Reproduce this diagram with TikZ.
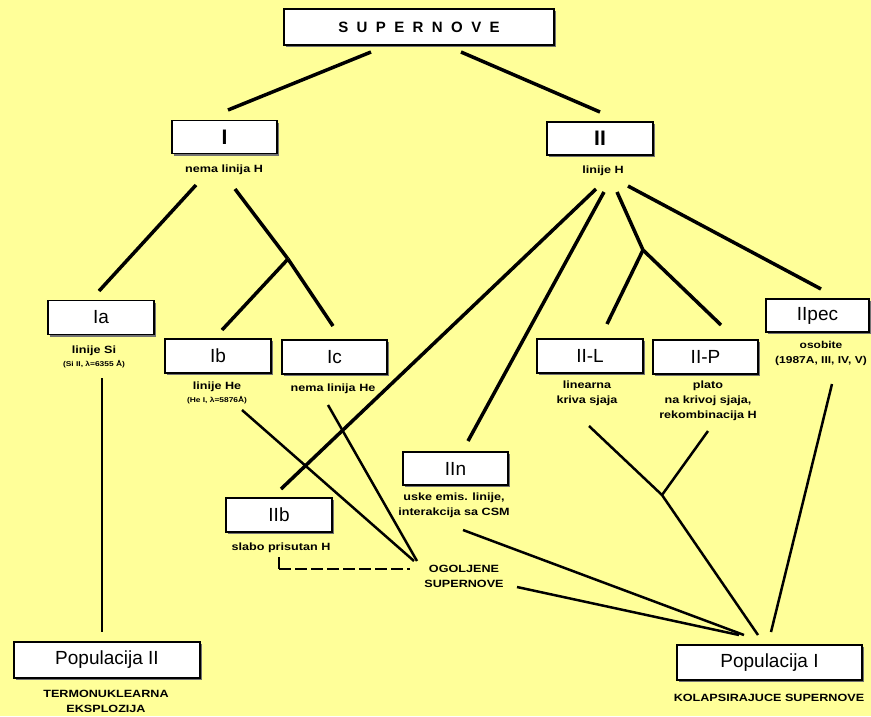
\documentclass[tikz,border=0pt]{standalone}
\usepackage{fontspec}
\setmainfont{Liberation Sans}
\newfontfamily\lblfont[FakeStretch=1.2]{Liberation Sans Bold}
\usetikzlibrary{shadows}
\definecolor{bgyellow}{RGB}{255,255,153}
\tikzset{
  box/.style={draw, line width=1.4pt, fill=white, minimum width=105pt, minimum height=34pt,
    inner sep=0pt, font=\fontsize{19}{22}\selectfont,
    drop shadow={shadow xshift=2pt, shadow yshift=-2pt, fill=black!55, opacity=1}},
  lbl/.style={inner sep=0pt, align=center, font=\lblfont\fontsize{10.5}{15}\selectfont},
  sublbl/.style={inner sep=0pt, align=center, font=\lblfont\fontsize{7}{9}\selectfont},
  conn/.style={line width=3.5pt},
  connthin/.style={line width=2.5pt},
}
\begin{document}
\begin{tikzpicture}[x=1pt,y=-1pt]
\fill[bgyellow] (0,0) rectangle (871,716);
\useasboundingbox (0,0) rectangle (871,716);

% boxes
\node[box, minimum width=270pt, minimum height=36pt, font=\fontsize{15}{18}\bfseries\selectfont] (sn) at (419,27)
  {S\kern8.4pt U\kern8.4pt P\kern8.4pt E\kern8.4pt R\kern8.4pt N\kern8.4pt O\kern8.4pt V\kern8.4pt E};
\node[box, minimum height=33pt, font=\fontsize{21}{24}\bfseries\selectfont] (I) at (224.5,137) {I};
\node[box, minimum width=106pt, minimum height=33pt, font=\fontsize{21}{24}\bfseries\selectfont] (II) at (600,138.5) {II};
\node[box, minimum width=106pt] (Ia) at (101,317.5) {Ia};
\node[box, minimum width=106pt] (Ib) at (218,356) {Ib};
\node[box] (Ic) at (334.5,357) {Ic};
\node[box, minimum width=106pt] (IIL) at (590,356) {II-L};
\node[box] (IIP) at (705.5,357) {II-P};
\node[box, minimum width=103pt, minimum height=33pt] (IIpec) at (817.5,315.5) {IIpec};
\node[box, minimum height=33pt] (IIn) at (455.5,468.5) {IIn};
\node[box, minimum width=106pt] (IIb) at (279,515) {IIb};
\node[box, minimum width=186pt, minimum height=36pt] (PopII) at (107,660) {Populacija II};
\node[box, minimum width=185pt, minimum height=35pt] (PopI) at (769.5,662.5) {Populacija I};

% labels
\node[lbl] (tI) at (224,170) {nema linija H};
\node[lbl] (tII) at (603,171) {linije H};
\node[lbl] (tIa) at (94,351) {linije Si};
\node[sublbl] (tIab) at (94,364) {(Si II, λ=6355 Å)};
\node[lbl] (tIb) at (217,387) {linije He};
\node[sublbl] (tIbb) at (217,400) {(He I, λ=5876Å)};
\node[lbl] (tIc) at (333,389) {nema linija He};
\node[lbl] (tIIL) at (587,393) {linearna\\kriva sjaja};
\node[lbl] (tIIP) at (708,401) {plato\\na krivoj sjaja,\\rekombinacija H};
\node[lbl, font=\lblfont\fontsize{10}{15}\selectfont] (tIIpec) at (821,353.5) {osobite\\(1987A, III, IV, V)};
\node[lbl] (tIIn) at (454,505.5) {uske emis. linije,\\interakcija sa CSM};
\node[lbl] (tIIb) at (281,548) {slabo prisutan H};
\node[lbl] (tog) at (464,576) {OGOLJENE\\SUPERNOVE};
\node[lbl] (tPopII) at (106,701.5) {TERMONUKLEARNA\\EKSPLOZIJA};
\node[lbl] (tPopI) at (769,698) {KOLAPSIRAJUCE SUPERNOVE};

% connector end points
\coordinate (a1) at (371,52);  \coordinate (a2) at (228,110);
\coordinate (b1) at (461,52);  \coordinate (b2) at (600,112);
\coordinate (c1) at (196,185); \coordinate (c2) at (99,291);
\coordinate (d1) at (235,189); \coordinate (j1) at (288,259);
\coordinate (d2) at (222,330); \coordinate (d3) at (333,326);
\coordinate (e1) at (102,378); \coordinate (e2) at (102,632);
\coordinate (f1) at (596,189); \coordinate (f2) at (281,489);
\coordinate (g1) at (604,192); \coordinate (g2) at (468,441);
\coordinate (h1) at (617,192); \coordinate (j2) at (643,250);
\coordinate (h2) at (607,324); \coordinate (h3) at (721,325);
\coordinate (k1) at (628,186); \coordinate (k2) at (821,289);
\coordinate (m1) at (242,410); \coordinate (m2) at (414,561);
\coordinate (n1) at (328,405); \coordinate (n2) at (417,561);
\coordinate (p1) at (279,557); \coordinate (p2) at (279,569); \coordinate (p3) at (410,569);
\coordinate (q1) at (463,530); \coordinate (q2) at (744,635);
\coordinate (r1) at (517,587); \coordinate (r2) at (739,635);
\coordinate (s1) at (589,426); \coordinate (j3) at (662,495); \coordinate (s2) at (758,635);
\coordinate (t1) at (708,431);
\coordinate (u1) at (832,384); \coordinate (u2) at (771,632);

% connectors
\draw[conn] (a1) -- (a2);
\draw[conn] (b1) -- (b2);
\draw[conn] (c1) -- (c2);
\draw[conn] (d1) -- (j1);
\draw[conn] (j1) -- (d2);
\draw[conn] (j1) -- (d3);
\draw[connthin] (e1) -- (e2);
\draw[conn] (f1) -- (f2);
\draw[conn] (g1) -- (g2);
\draw[conn] (h1) -- (j2);
\draw[conn] (j2) -- (h2);
\draw[conn] (j2) -- (h3);
\draw[conn] (k1) -- (k2);
\draw[connthin] (m1) -- (m2);
\draw[connthin] (n1) -- (n2);
\draw[connthin] (p1) -- (p2);
\draw[connthin, dash pattern=on 12pt off 4pt] (p2) -- (p3);
\draw[connthin] (q1) -- (q2);
\draw[connthin] (r1) -- (r2);
\draw[connthin] (s1) -- (j3) -- (s2);
\draw[connthin] (t1) -- (j3);
\draw[connthin] (u1) -- (u2);
\end{tikzpicture}
\end{document}
